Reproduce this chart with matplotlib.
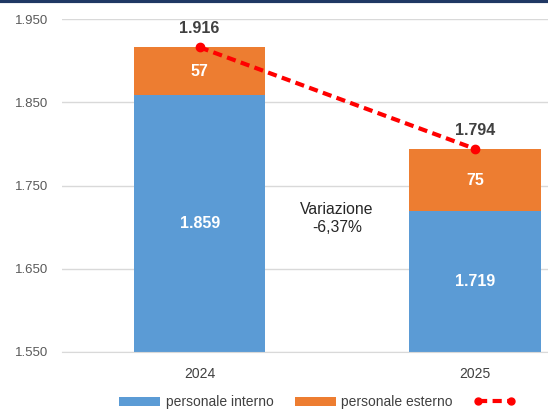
import matplotlib.pyplot as plt
from matplotlib.lines import Line2D

plt.rcParams['font.family'] = ['Liberation Sans', 'DejaVu Sans']

anni = ['2024', '2025']
interno = [1859, 1719]
esterno = [57, 75]
totale = [1916, 1794]
etichette_tot = ['1.916', '1.794']
etichette_int = ['1.859', '1.719']
etichette_est = ['57', '75']
yticks = [1550, 1650, 1750, 1850, 1950]
ytick_labels = ['1.550', '1.650', '1.750', '1.850', '1.950']

blu = '#5B9BD5'
arancio = '#ED7D31'
rosso = '#FF0000'

fig = plt.figure(figsize=(5.48, 4.09), dpi=100)
ax = fig.add_axes([62 / 548, 1 - 352 / 409, 1 - 62 / 548, (352 - 19) / 409])

x = list(range(len(anni)))
w = 0.476
b1 = ax.bar(x, interno, width=w, color=blu, label='personale interno', zorder=2)
b2 = ax.bar(x, esterno, width=w, bottom=interno, color=arancio, label='personale esterno', zorder=2)
ax.plot(x, totale, color=rosso, lw=3, ls=(0, (2.2, 1.3)), marker='o', ms=6, zorder=3)

for i in x:
    ax.text(i, 1550 + (interno[i] - 1550) / 2, etichette_int[i], ha='center', va='center',
            color='white', fontsize=11.5, fontweight='bold', zorder=4)
    ax.text(i, interno[i] + esterno[i] / 2, etichette_est[i], ha='center', va='center',
            color='white', fontsize=11.5, fontweight='bold', zorder=4)
    ax.text(i, totale[i] + 13, etichette_tot[i], ha='center', va='bottom',
            color='#404040', fontsize=11.5, fontweight='bold', zorder=4)

ax.text(0.498, 1710, 'Variazione\n-6,37%', ha='center', va='center', color='#262626',
        fontsize=11.3, linespacing=1.25)

ax.set_ylim(1550, 1950)
ax.set_xlim(-0.5, 1.265)
ax.set_yticks(yticks)
ax.set_yticklabels(ytick_labels)
ax.set_xticks(x)
ax.set_xticklabels(anni)
ax.tick_params(axis='y', length=0, labelsize=9.5, labelcolor='#595959', pad=10)
ax.tick_params(axis='x', length=0, labelsize=10, labelcolor='#404040', pad=11)
ax.yaxis.grid(True, color='#D9D9D9', lw=1, zorder=0)
for s in ['top', 'right', 'left']:
    ax.spines[s].set_visible(False)
ax.spines['bottom'].set_color('#D9D9D9')

linea = Line2D([], [], color=rosso, lw=3, ls=(0, (2.2, 1.3)), marker='o', ms=5)
fig.legend([b1, b2, linea], ['personale interno', 'personale esterno', ''],
           loc='center left', bbox_to_anchor=(119 / 548, 1 - 402 / 409), ncol=3, frameon=False,
           fontsize=10, handlelength=2.95, handleheight=0.6, columnspacing=1.5,
           handletextpad=0.43, labelcolor='#404040', borderpad=0, borderaxespad=0,
           numpoints=2)

fig.add_artist(Line2D([0, 1], [0.997, 0.997], transform=fig.transFigure, color='#203864', lw=3))

fig.savefig('out.png', dpi=100)
